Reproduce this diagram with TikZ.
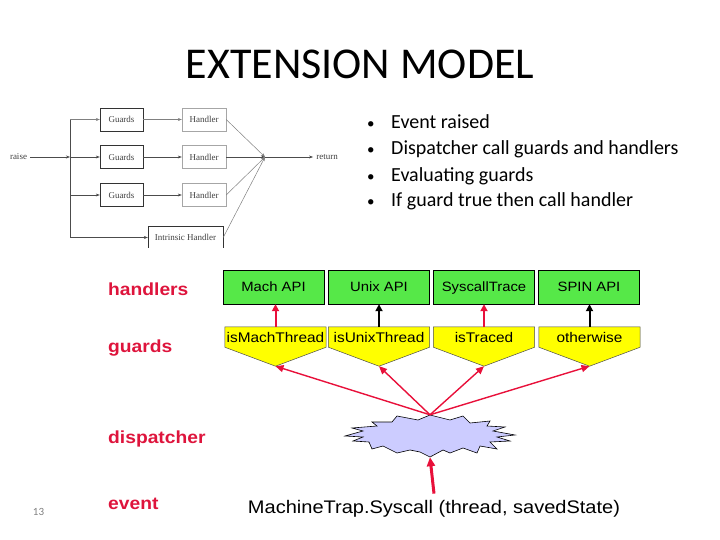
\documentclass[tikz,border=0pt]{standalone}
\usepackage{fontspec}
\setmainfont{Carlito}
\newfontfamily\armfont[FakeStretch=1.1]{Liberation Sans}
\newfontfamily\serfont{Liberation Serif}
\usepackage{xcolor}
\usetikzlibrary{shapes,arrows.meta,positioning,calc,backgrounds}
\definecolor{apigreen}{RGB}{86,232,72}
\definecolor{guardyellow}{RGB}{255,255,0}
\definecolor{burstblue}{RGB}{204,204,255}
\definecolor{labelred}{RGB}{222,20,60}
\definecolor{arrowred}{RGB}{232,16,58}
\tikzstyle{title}    =[font={\fontsize{44}{48}\selectfont}, anchor=base]
\tikzstyle{bulletln} =[font={\fontsize{20}{24}\selectfont}, anchor=base west]
\tikzstyle{smallbox} =[rectangle, draw=gray!40!black, minimum height=23pt,
                        font={\serfont\fontsize{9}{10}\selectfont}, text=black!75]
\tikzstyle{smalltxt} =[font={\serfont\fontsize{9}{10}\selectfont}, text=black!75, inner sep=3pt]
\tikzstyle{thinarr}  =[-{Stealth[length=4pt,width=3pt]}, draw=gray!60!black, line width=0.5pt]
\tikzstyle{api}      =[rectangle, draw=black, fill=apigreen, minimum width=101pt,
                        minimum height=34pt, text height=9.7pt, text depth=0pt,
                        font={\armfont\fontsize{13.5}{16}\selectfont}]
\tikzstyle{guard}    =[rectangle, minimum width=101pt, minimum height=20pt,
                        text height=10pt, text depth=0pt,
                        font={\armfont\fontsize{14}{16}\selectfont}]
\tikzstyle{guardbg}  =[draw=black!70, fill=guardyellow, line width=0.5pt]
\tikzstyle{level}    =[font={\armfont\bfseries\fontsize{17.5}{20}\selectfont},
                        text=labelred, anchor=base west]
\tikzstyle{upred}    =[-{Triangle[length=7pt,width=7pt]}, draw=arrowred, line width=2pt]
\tikzstyle{upblack}  =[-{Triangle[length=7pt,width=7pt]}, draw=black, line width=2pt]
\tikzstyle{fanarr}   =[-{Triangle[length=8pt,width=7pt]}, draw=arrowred, line width=1.4pt]

\begin{document}
\begin{tikzpicture}[x=1pt, y=-1pt, every node/.style={inner sep=0pt}]
  \useasboundingbox (0,0) rectangle (720,540);

  % ── title and bullets ──────────────────────────────────────────────────────
  \node[title] (title) at (360,79) {EXTENSION MODEL};
  \node[bulletln] (b1) at (367,129) {\makebox[24pt][l]{\fontsize{15}{15}\selectfont•}Event raised};
  \node[bulletln] (b2) at (367,155) {\makebox[24pt][l]{\fontsize{15}{15}\selectfont•}Dispatcher call guards and handlers};
  \node[bulletln] (b3) at (367,182) {\makebox[24pt][l]{\fontsize{15}{15}\selectfont•}Evaluating guards};
  \node[bulletln] (b4) at (367,207) {\makebox[24pt][l]{\fontsize{15}{15}\selectfont•}If guard true then call handler};
  \node[font={\fontsize{11}{12}\selectfont}, text=gray, anchor=base] (page) at (38.5,515) {13};

  % ── small overview figure (cropped at the bottom) ──────────────────────────
  \begin{scope}
    \clip (0,95) rectangle (360,247);
    \node[smalltxt] (raise) at (18.5,157) {raise};
    \node[smalltxt] (ret)   at (327,157)  {return};
    \node[smallbox, minimum width=43pt] (ga) at (121.5,119.5) {Guards};
    \node[smallbox, minimum width=43pt] (gb) at (121.5,157)   {Guards};
    \node[smallbox, minimum width=43pt] (gc) at (121.5,195)   {Guards};
    \node[smallbox, draw=gray!70, minimum width=44pt] (ha) at (204,119.5) {Handler};
    \node[smallbox, draw=gray!70, minimum width=44pt] (hb) at (204,157)   {Handler};
    \node[smallbox, draw=gray!70, minimum width=44pt] (hc) at (204,195)   {Handler};
    \node[smallbox, minimum width=75pt] (ih) at (185.5,237.5) {Intrinsic Handler};
    \coordinate (split) at (70,157);
    \coordinate (stop)  at (70,119.5);
    \coordinate (smid)  at (70,195);
    \coordinate (sbot)  at (70,237.5);
    \coordinate (join)  at (265,157);

    \draw[thinarr] (raise) -- (split);
    \draw[draw=gray!60!black, line width=0.5pt] (stop) -- (sbot);
    \draw[thinarr, draw=gray] (stop) -- (ga);
    \draw[thinarr] (split) -- (gb);
    \draw[thinarr] (smid)  -- (gc);
    \draw[thinarr] (sbot)  -- (ih);
    \draw[thinarr, draw=gray] (ga) -- (ha);
    \draw[thinarr] (gb) -- (hb);
    \draw[thinarr] (gc) -- (hc);
    \draw[thinarr, draw=gray] (ha.east) -- (join);
    \draw[thinarr] (hb.east) -- (join);
    \draw[thinarr, draw=gray] (hc.east) -- (join);
    \draw[thinarr, draw=gray] (ih.east) -- (join);
    \draw[thinarr] (join) -- (ret);
  \end{scope}

  % ── level labels ───────────────────────────────────────────────────────────
  \node[level] (lhand) at (108,295) {handlers};
  \node[level] (lguard) at (108,352) {guards};
  \node[level] (ldisp) at (108,443) {dispatcher};
  \node[level] (levent) at (108,509) {event};

  % ── handlers ───────────────────────────────────────────────────────────────
  \node[api] (h1) at (273.5,287) {Mach API};
  \node[api] (h2) at (379,287)   {Unix API};
  \node[api] (h3) at (484,287)   {SyscallTrace};
  \node[api] (h4) at (589,287)   {SPIN API};

  % ── guards ─────────────────────────────────────────────────────────────────
  \node[guard] (g1) at (275.5,337) {isMachThread};
  \node[guard] (g2) at (379,337)   {isUnixThread};
  \node[guard] (g3) at (484,337)   {isTraced};
  \node[guard] (g4) at (589.5,337) {otherwise};
  \coordinate (a1) at ($(g1.south)+(0,19)$);
  \coordinate (a2) at ($(g2.south)+(0,19)$);
  \coordinate (a3) at ($(g3.south)+(0,19)$);
  \coordinate (a4) at ($(g4.south)+(0,19)$);
  \begin{scope}[on background layer]
    \draw[guardbg] (g1.north west) -- (g1.north east) -- (g1.south east) -- (a1) -- (g1.south west) -- cycle;
    \draw[guardbg] (g2.north west) -- (g2.north east) -- (g2.south east) -- (a2) -- (g2.south west) -- cycle;
    \draw[guardbg] (g3.north west) -- (g3.north east) -- (g3.south east) -- (a3) -- (g3.south west) -- cycle;
    \draw[guardbg] (g4.north west) -- (g4.north east) -- (g4.south east) -- (a4) -- (g4.south west) -- cycle;
  \end{scope}

  \draw[upred]   (g1.north) -- (h1.south -| g1.north);
  \draw[upblack] (g2.north) -- (h2.south);
  \draw[upred]   (g3.north) -- (h3.south);
  \draw[upblack] (g4.north) -- (h4.south -| g4.north);

  % ── dispatcher burst ───────────────────────────────────────────────────────
  \node[minimum width=170pt, minimum height=42pt] (burst) at (430,436) {};
  \draw[fill=burstblue, draw=black, line width=0.6pt, shift={(burst.center)}]
    (0,-21) -- (-12,-16) -- (-33,-20) -- (-38,-14) -- (-58,-14) -- (-53,-10)
    -- (-78,-8) -- (-67,-5) -- (-85,0) -- (-67,1) -- (-77,5) -- (-61,6)
    -- (-58,13) -- (-47,10) -- (-33,17) -- (-20,14) -- (-10,16) -- (0,21)
    -- (13,14) -- (20,17) -- (33,12) -- (47,17) -- (50,10) -- (67,13)
    -- (60,6) -- (80,5) -- (67,1) -- (85,-1) -- (63,-5) -- (75,-9)
    -- (57,-10) -- (60,-15) -- (40,-13) -- (33,-20) -- (20,-16) -- cycle;

  \draw[fanarr] (burst.north) -- (a1);
  \draw[fanarr] (burst.north) -- (a2);
  \draw[fanarr] (burst.north) -- (a3);
  \draw[fanarr] (burst.north) -- (a4);

  % ── event ──────────────────────────────────────────────────────────────────
  \node[font={\armfont\fontsize{18.2}{21}\selectfont}, anchor=base, inner ysep=6pt]
    (evt) at (434,513) {MachineTrap.Syscall (thread, savedState)};
  \draw[-{Triangle[length=9pt,width=8pt]}, draw=arrowred, line width=3pt]
    (evt.north) -- (burst.south);

\end{tikzpicture}
\end{document}
